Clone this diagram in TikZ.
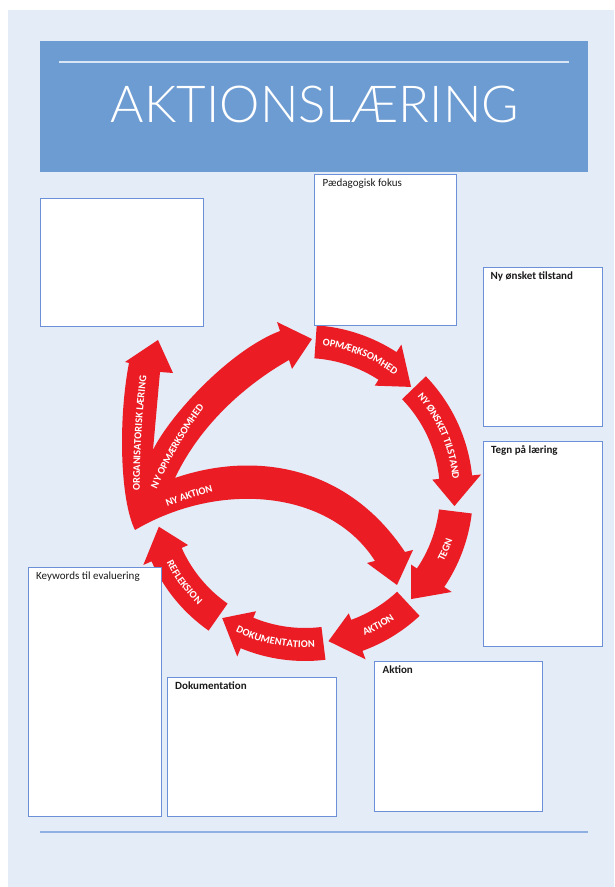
\documentclass[tikz,border=0pt]{standalone}
\usepackage{fontspec}
\setmainfont{Carlito}
\newfontfamily\titlefont{Lato Light}
\usetikzlibrary{decorations.text,calc}
\definecolor{bgblue}{HTML}{E4ECF7}
\definecolor{headblue}{HTML}{6D9CD3}
\definecolor{headline}{HTML}{D8E5F4}
\definecolor{boxblue}{HTML}{6C90D8}
\definecolor{bottomline}{HTML}{8FB1E2}
\definecolor{arrowred}{HTML}{EC1C24}
\definecolor{labeltext}{HTML}{1A1A1A}
\newcommand\arrowfont{\fontsize{10.4}{12}\selectfont\bfseries}
\newcommand\ringarrow[3]{\fill[arrowred] (#1:168pt) arc[start angle=#1,end angle=#2,radius=168pt] -- (#2:177pt) -- (#3:150pt) -- (#2:128pt) -- (#2:135pt) arc[start angle=#2,end angle=#1,radius=135pt] -- cycle;}
\newcommand\ringlabel[3]{\path[ringtext, decoration={text={|\arrowfont|#3}}] (#1:151.5pt) arc[start angle=#1,end angle=#2,radius=151.5pt];}
\begin{document}
\begin{tikzpicture}[x=1pt,y=1pt,
  box/.style={draw=boxblue, fill=white, line width=1.2pt, inner sep=0pt, anchor=north west},
  lbl/.style={anchor=base west, inner sep=0pt, font=\fontsize{11}{13}\selectfont, text=labeltext},
  blbl/.style={lbl, font=\fontsize{11}{13}\selectfont\bfseries},
  ringtext/.style={decorate, decoration={text along path, text align=center, raise=-3.3pt, text color=white}}]
\useasboundingbox (0,0) rectangle (614,887);
\fill[bgblue] (8,0) rectangle (614,877);
% header
\fill[headblue] (40,715) rectangle (588,846);
\draw[headline, line width=1.5pt] (59,825) -- (569,825);
\node[font=\titlefont\fontsize{51}{60}\selectfont, text=white, anchor=base, inner sep=0pt] (title) at (315,764) {AKTIONSLÆRING};
% ring arrows
\begin{scope}[shift={(305,394)}]
\ringarrow{86}{57}{45}
\ringarrow{44}{6}{-5}
\ringarrow{-7}{-34}{-45}
\ringarrow{-47}{-70}{-81}
\ringarrow{-83}{-112.5}{-123.5}
\ringarrow{-125}{-156}{-167}
\ringlabel{95}{41}{OPMÆRKSOMHED}
\ringlabel{50}{-4}{NY ØNSKET TILSTAND}
\ringlabel{-45}{1}{TEGN}
\ringlabel{-84}{-38}{AKTION}
\ringlabel{-125}{-78}{DOKUMENTATION}
\ringlabel{-168}{-119}{REFLEKSION}
\end{scope}
% left group
\fill[arrowred] (158,547) -- (173,514) -- (160,515) -- (153,437)
 .. controls (170,472) and (230,537) .. (280,556) -- (277,565) -- (312,548) -- (292,518) -- (289,527)
 .. controls (245,502) and (200,462) .. (175,409)
 .. controls (250,435) and (345,425) .. (405,335) -- (413,337) -- (397,302) -- (367,324) -- (375,326)
 .. controls (330,397) and (220,407) .. (135,357)
 .. controls (120,387) and (118,467) .. (129,524) -- (125,525) -- cycle;
\path[ringtext, decoration={text={|\arrowfont|ORGANISATORISK LÆRING}}] (138,360) .. controls (134,418) and (139,487) .. (148,547);
\path[ringtext, decoration={text={|\arrowfont|NY OPMÆRKSOMHED}}] (148,387) .. controls (165,425) and (185,462) .. (210,492);
\path[ringtext, decoration={text={|\arrowfont|NY AKTION}}] (140,372) .. controls (170,387) and (210,399) .. (240,405);
% boxes
\node[box, minimum width=163pt, minimum height=128pt] (tl) at (40,689) {};
\node[box, minimum width=142pt, minimum height=151pt] (pf) at (314,713) {};
\node[box, minimum width=119pt, minimum height=159pt] (ny) at (483,620) {};
\node[box, minimum width=119pt, minimum height=205pt] (tg) at (483,446) {};
\node[box, minimum width=133pt, minimum height=249pt] (kw) at (28,320) {};
\node[box, minimum width=169pt, minimum height=139pt] (dk) at (167,210) {};
\node[box, minimum width=168pt, minimum height=150pt] (ak) at (374,226) {};
\node[lbl] (pfl) at ($(pf.north west)+(8.5,-13)$) {Pædagogisk fokus};
\node[blbl] (nyl) at ($(ny.north west)+(7.5,-13)$) {Ny ønsket tilstand};
\node[blbl] (tgl) at ($(tg.north west)+(8,-13)$) {Tegn på læring};
\node[lbl] (kwl) at ($(kw.north west)+(8,-13)$) {Keywords til evaluering};
\node[blbl] (dkl) at ($(dk.north west)+(8,-13)$) {Dokumentation};
\node[blbl] (akl) at ($(ak.north west)+(8.5,-13)$) {Aktion};
\draw[bottomline, line width=1.5pt] (40,55) -- (588,55);
\end{tikzpicture}
\end{document}
